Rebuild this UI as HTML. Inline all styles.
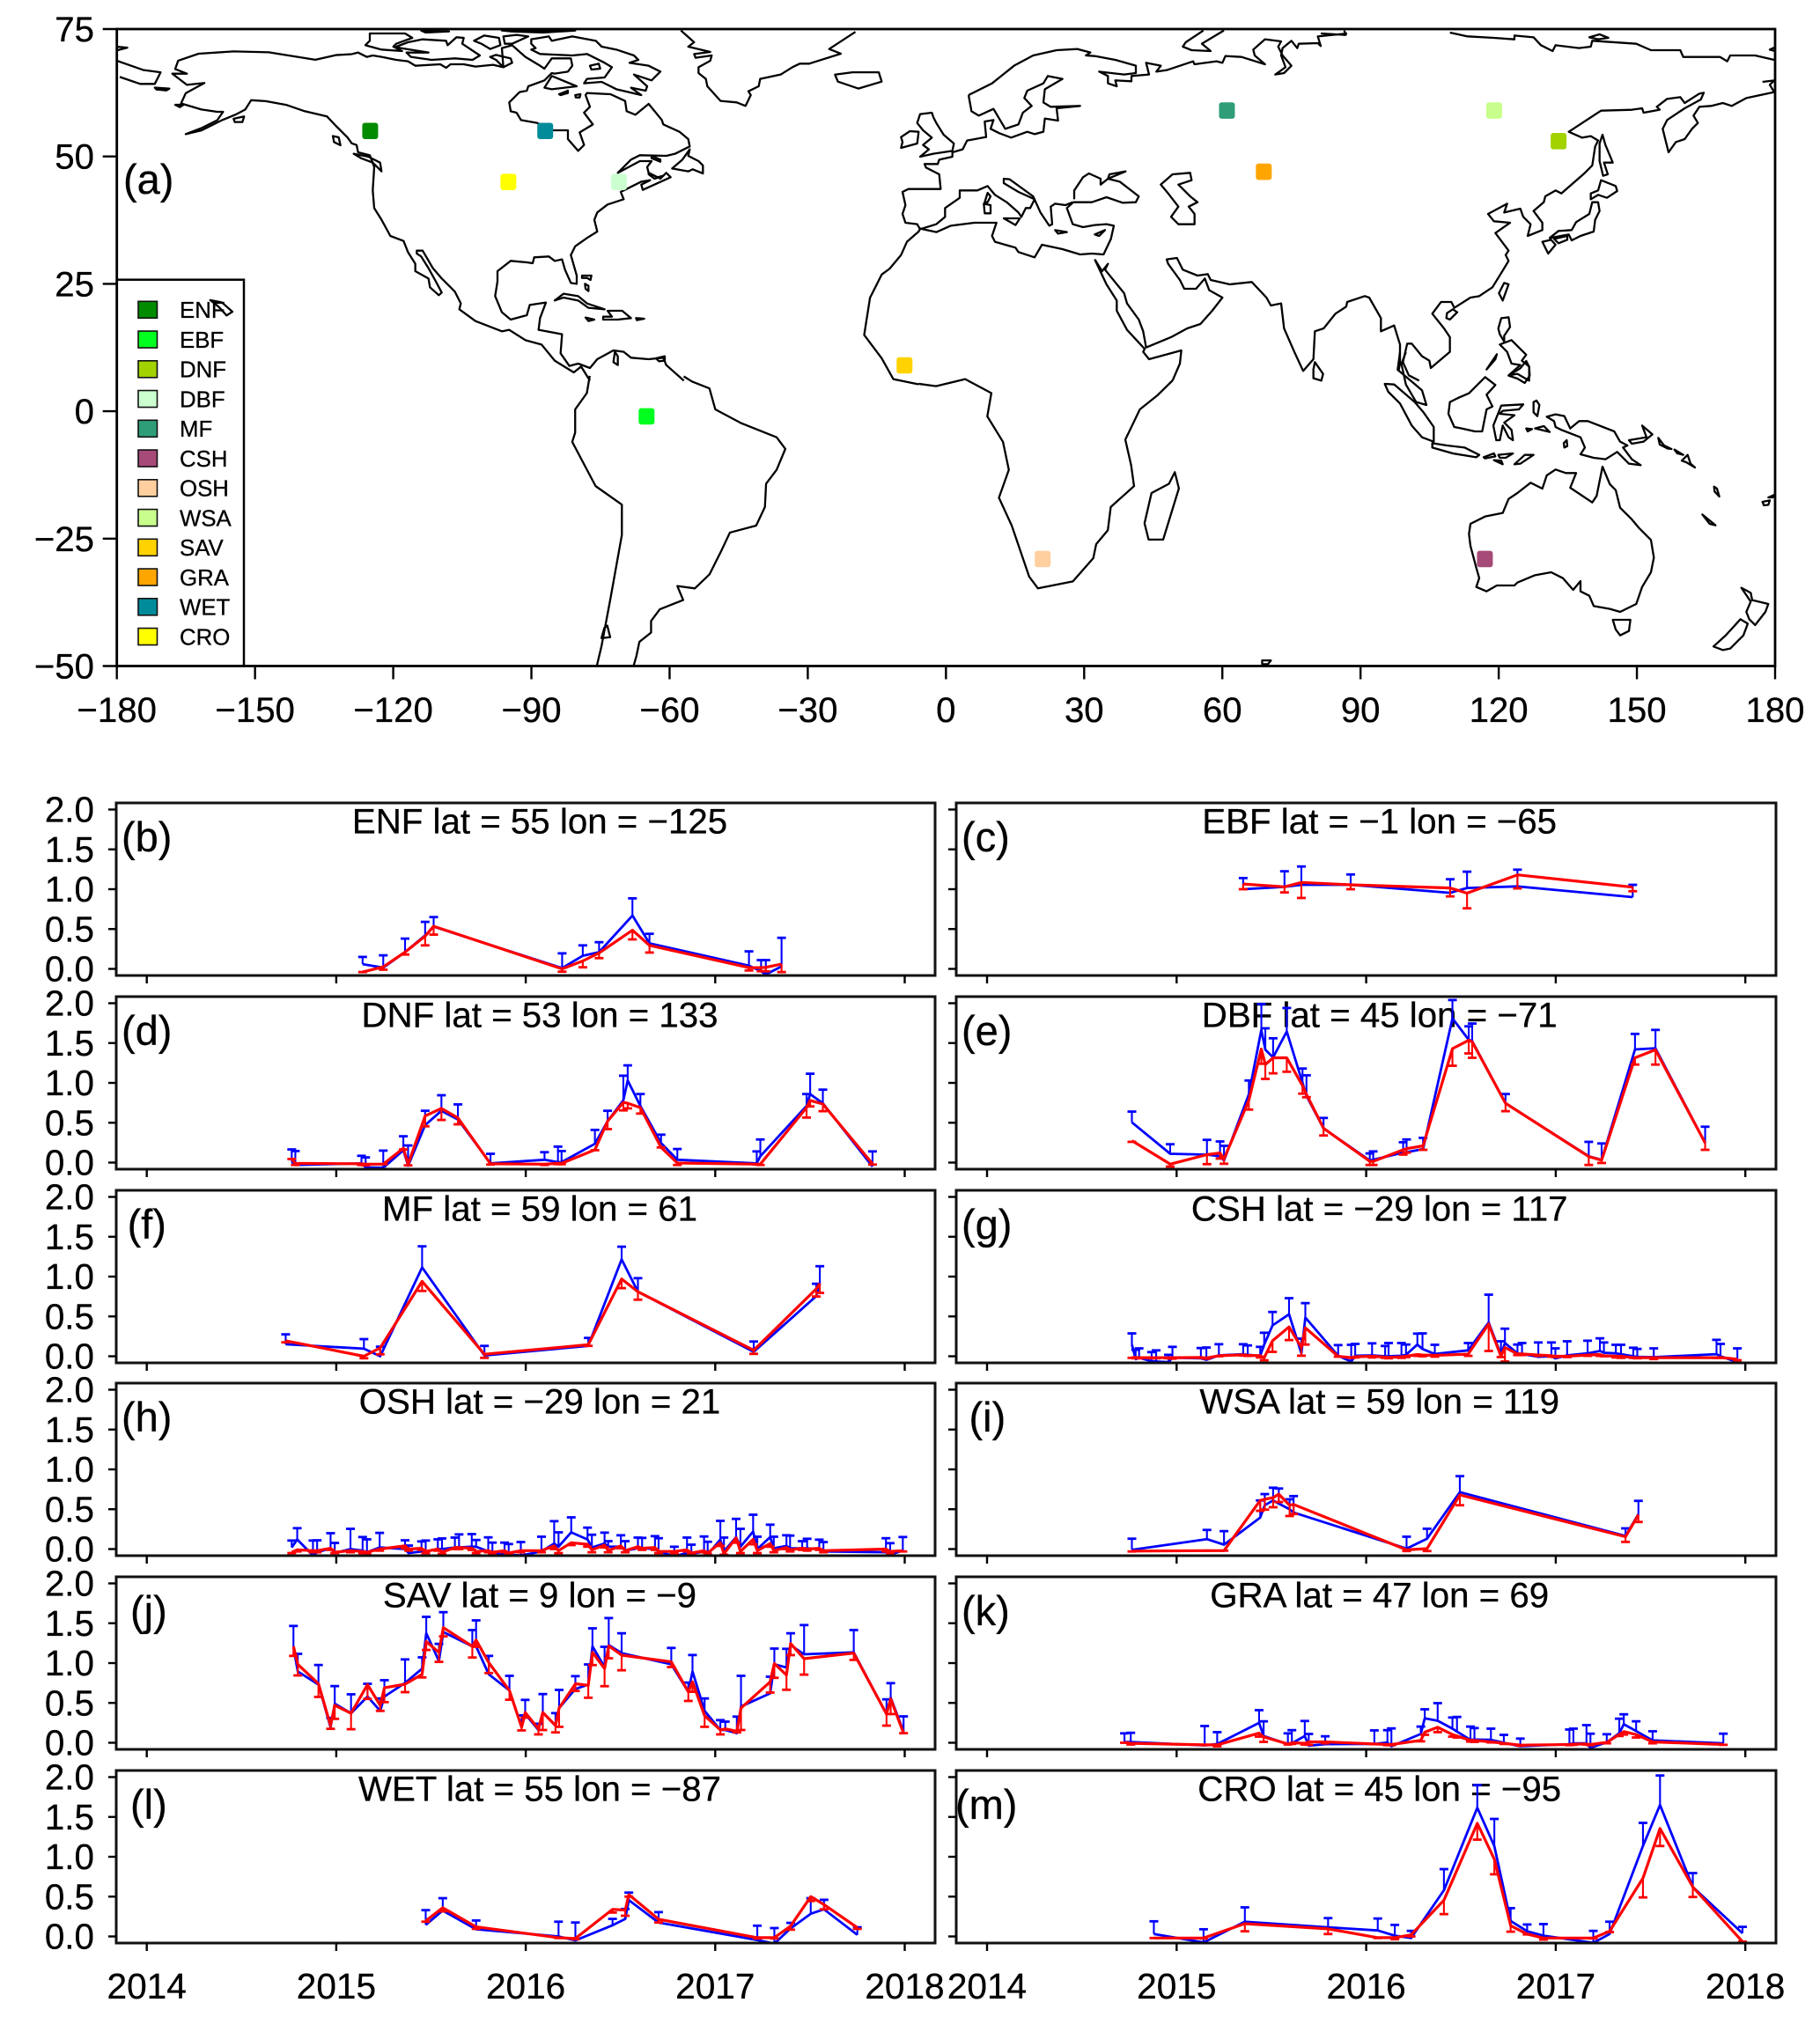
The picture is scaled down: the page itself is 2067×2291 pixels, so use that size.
<!DOCTYPE html>
<html lang="en">
<head>
<meta charset="utf-8">
<title>Site map and time series by land cover class</title>
<style>
html,body{margin:0;padding:0;background:#fff;}
svg{display:block;font-family:"Liberation Sans",sans-serif;}
svg text{stroke:#000;stroke-width:0.3;}
.coast path{fill:none;stroke:#000;stroke-width:2.3;vector-effect:non-scaling-stroke;stroke-linejoin:round;}
</style>
</head>
<body>
<svg id="fig" xmlns="http://www.w3.org/2000/svg" width="2067" height="2291" viewBox="0 0 2067 2291">
<rect x="0" y="0" width="2067" height="2291" fill="#fff"/>
<defs>
<clipPath id="mapClip"><rect x="132.7" y="33" width="1883.3" height="723.5"/></clipPath>
</defs>
<g id="mapLegendLayer"></g>
<g clip-path="url(#mapClip)">
<g class="coast" transform="translate(0.07 0.26) scale(0.6631 0.5281)">
<path d="M603,116 575,118 540,128 460,112 400,110 340,115 305,130 300,148 320,158 295,158 320,182 350,178 318,200 310,222 345,235 372,240 382,240 372,258 345,275 318,288 345,280 380,258 405,245 420,235 430,215 455,217 490,225 520,238 560,250 575,270 595,295 603,309"/>
<path d="M1171,809 1185,820 1215,835 1225,880 1270,910 1330,940 1345,965 1330,1010 1312,1040 1310,1090 1295,1130 1250,1145 1235,1185 1215,1235 1190,1265 1160,1260 1170,1290 1130,1310 1115,1335 1115,1360 1095,1380 1090,1410 1085,1432"/>
<path d="M1010,808 1005,845 985,880 985,930 980,950 1020,1045 1065,1085 1065,1150 1045,1290 1030,1390 1022,1432"/>
<path d="M1387,136 1440,115 1420,105 1465,68"/>
<path d="M1430,160 1460,155 1505,155 1510,175 1470,190 1435,175Z"/>
<path d="M200,100 218,102 200,108Z"/>
<path d="M200,130 245,150 275,155 265,180 240,180 205,165"/>
<path d="M265,188 290,190 285,194 268,192Z"/>
<path d="M300,225 314,225 308,230Z"/>
<path d="M400,255 418,250 415,262 402,262Z"/>
<path d="M570,292 580,295 583,312 572,305Z"/>
<path d="M360,645 380,650 398,670 388,678 375,660Z"/>
<path d="M1040,1345 1045,1370 1030,1372 1035,1350Z"/>
<path d="M1573,826 1530,815 1510,770 1480,720 1490,640 1510,590 1523,578"/>
</g>
<g class="coast" transform="translate(1030 0.26) scale(0.6614 0.5281)">
<path d="M456,818 430,850 400,880 375,945 385,1000 390,1045 350,1090 345,1140 325,1170 320,1200 285,1250 225,1265 210,1240 180,1130 158,1070 175,1010 165,950 138,895 145,845 100,815 50,830 20,825"/>
<path d="M460,1015 467,1050 440,1160 415,1160 408,1125 420,1060 450,1040Z"/>
<path d="M610,1420 625,1420 620,1428 610,1428Z"/>
</g>
<g class="coast" transform="translate(400 33) scale(0.33333)">
<path d="M0,85 20,80 50,95 70,90 100,95 150,105 190,110 215,125 300,120 320,132 335,120 380,120 420,128 480,122 515,130 510,65 545,55 590,95 640,125 655,135 680,100 745,100 750,125 735,145 690,152 680,150 655,175 600,195 595,210 570,215 535,250 540,280 560,285 575,310 630,320 685,345 735,345 735,375 770,415 790,395 775,352 820,325 790,285 810,265 795,225 800,218 880,222 930,245 935,280 965,292 1010,255 1055,310 1060,325 1115,350 1145,375 1150,400 1100,425 1070,432 980,430 950,445 905,490 980,450 1020,450 1005,470 1010,490 1050,510 1070,490 1085,505 990,548 985,530 1015,515 985,520 935,545 915,555 925,580 870,598 835,625 825,650 835,690 800,712 760,740 745,770 765,840 765,868 745,865 725,820 715,785 690,790 670,775 620,778 615,798 595,795 540,790 495,825 495,860 487,910 510,965 540,990 595,975 605,940 660,932 640,985 635,1025 715,1040 710,1105 740,1148 770,1140 810,1155 835,1125 890,1095 925,1100 950,1120 1010,1125 1060,1120 1070,1145 1130,1198"/>
<path d="M0,390 15,395 20,420 60,430 75,470 70,550 75,610 100,650 130,705 175,722 190,760 215,800 215,825 260,850 265,880 295,907 305,898 285,860 260,815 235,775 220,765 220,755 240,755 275,815 305,850 350,895 370,935 365,955 420,995 510,1030 535,1025 590,1060 645,1075 690,1130 755,1170 780,1150 810,1198"/>
<path d="M5,425 55,435 95,455 100,485 70,455 30,440Z"/>
<path d="M45,55 60,40 60,15 180,15 205,30 150,50 140,60 170,75 100,70Z"/>
<path d="M150,60 190,45 240,35 320,40 325,55 355,28 380,30 375,50 435,90 410,105 350,100 270,105 200,95 185,80 260,80 165,65Z"/>
<path d="M415,40 450,22 500,30 505,55 470,68 440,50Z"/>
<path d="M515,25 560,20 600,25 545,50 520,50Z"/>
<path d="M470,95 490,88 540,100 545,115 515,130 490,105Z"/>
<path d="M235,5 330,8 250,12Z"/>
<path d="M510,5 760,5 650,12 540,8Z"/>
<path d="M610,35 670,25 680,40 750,25 830,40 850,60 900,70 960,90 975,105 945,115 1010,125 1050,145 1020,175 960,155 1005,195 1000,210 950,200 985,225 900,205 850,180 790,185 800,170 860,165 885,130 860,115 800,85 750,90 640,85 610,70 625,65 610,50Z"/>
<path d="M810,125 840,118 845,135 815,138Z"/>
<path d="M655,200 680,160 765,195 680,205Z"/>
<path d="M705,222 735,210 735,218 710,225Z"/>
<path d="M760,225 778,222 775,233 762,233Z"/>
<path d="M1120,5 1165,45 1145,60 1220,78 1165,85 1170,98 1225,90 1220,108 1180,130 1180,150 1205,170 1210,195 1255,245 1310,250 1340,262 1358,225 1350,212 1385,195 1390,170 1460,155 1500,130 1525,118 1560,118"/>
<path d="M690,925 720,902 770,910 800,935 860,955 805,950 770,925 720,915Z"/>
<path d="M870,960 920,960 950,985 905,990 855,990 855,980 885,980Z"/>
<path d="M795,983 825,990 805,995Z"/>
<path d="M967,985 995,987 970,992Z"/>
<path d="M783,840 815,840 812,855 800,848 783,848Z"/>
<path d="M793,868 805,875 805,893 795,885Z"/>
<path d="M1150,410 1125,445 1090,475 1145,485 1160,478 1195,492 1195,465 1180,450 1145,432Z"/>
<path d="M1010,490 1040,505 1060,500 1030,510 1010,495Z"/>
<path d="M1020,432 1050,445 1050,452 1020,440Z"/>
<path d="M1035,1122 1065,1115 1065,1130 1045,1132Z"/>
<path d="M895,1100 905,1115 905,1145 890,1135Z"/>
</g>
<g class="coast" transform="translate(1010 33) scale(0.33333)">
<path d="M270,225 280,280 305,295 355,272 395,340 440,325 455,285 485,262 460,235 470,210 525,185 540,160 590,170 530,205 525,250 550,265 650,262 570,270 575,312 530,305 525,350 495,358 470,350 415,370 375,355 345,340 355,310 325,315 330,368 265,380 250,410 215,420 215,435 170,445 165,460 120,460 125,472 170,495 175,545 65,545 45,555 55,600 45,630 55,660 95,665 105,682 160,665 190,640 190,610 240,575 240,550 300,550 335,535 360,565 400,590 440,625 450,640 465,610 480,610 495,580 440,555 390,525 390,510 410,512 490,570 515,625 545,670 555,665 550,605 565,595 600,600 625,590"/>
<path d="M630,580 630,550 660,505 680,492 720,510 720,530 745,510 805,485 750,495 745,510 785,520 850,570 840,590 795,592 740,573 690,590 650,590 625,590"/>
<path d="M625,592 605,610 625,665 660,675 700,668 740,665 765,670 755,715 730,768 690,765 650,768 590,750 520,735 495,778 440,760 430,745 360,725 350,705 365,660 290,660 210,670 160,692 105,680 100,690 60,725 40,770 0,818"/>
<path d="M390,645 445,645 430,668Z"/>
<path d="M335,558 345,570 335,590 325,590Z"/>
<path d="M322,595 345,600 345,628 325,628Z"/>
<path d="M565,685 605,692 575,697Z"/>
<path d="M700,700 735,685 715,705Z"/>
<path d="M105,290 145,285 150,300 160,320 185,360 220,390 215,415 150,425 105,435 135,410 115,395 145,370 115,345 95,320Z"/>
<path d="M40,368 70,348 100,350 95,390 40,405 45,385Z"/>
<path d="M270,225 350,185 425,125 490,90 570,72 640,68 685,80 670,90 700,92 770,105 840,125 840,150 800,155 715,145 745,160 745,185 775,195 770,175 825,178 825,160 885,155 875,115 925,125 910,145 945,140 1035,110 1040,120 1115,110 1135,115 1145,92 1200,95 1280,120 1245,90 1240,70 1280,35 1335,42 1325,60 1340,90 1370,125 1345,150 1315,155 1350,130 1335,90 1340,65 1370,40 1390,65 1395,50 1460,48 1470,58 1460,25 1560,15"/>
<path d="M1070,5 1010,45 1000,60 1030,72 1095,75 1065,50 1140,5"/>
<path d="M925,530 965,495 1025,490 1030,515 985,530 1025,570 1050,590 1020,605 1040,630 1040,665 985,665 960,640 985,605 950,560Z"/>
<path d="M700,785 740,870 775,925 775,960 810,1025 870,1090 865,1100 885,1125 995,1095 990,1140 965,1198"/>
<path d="M700,785 725,825 745,800 735,820 800,900 810,935 850,990 865,1030 875,1085 960,1050 1015,1020 1060,1005 1100,960 1135,915 1090,890 1075,850 1045,885 1005,885 990,855 950,800 945,785 980,780 1000,820 1050,840 1085,835 1095,855 1160,870 1235,862 1285,915 1300,942 1335,935 1345,1020 1380,1100 1410,1165 1445,1125 1450,1030 1480,1020 1520,970 1558,945"/>
<path d="M1450,1135 1478,1175 1472,1198 1445,1190 1445,1160Z"/>
</g>
<g class="coast" transform="translate(1500 33) scale(0.33333)">
<path d="M87,945 90,930 150,910 165,915 205,985 205,1030 250,1010 270,1075 270,1140 265,1165"/>
<path d="M295,1070 280,1135 300,1180 335,1198"/>
<path d="M295,1072 310,1072 345,1115 370,1130 375,1155 440,1100 440,1050 420,1020 380,970 410,930 445,930 455,950 510,915 540,910 585,880 625,815 640,790 630,770 640,755 595,695 645,660 590,655 570,630 635,595 625,625 680,612 690,640 715,665 705,705 755,685 755,660 725,620 760,590 765,570 800,550 820,560 900,490 925,465 935,400 945,380 920,365 890,370 845,350 955,278 1060,275 1095,270 1100,285 1155,275 1145,265 1180,238 1225,232 1240,252 1290,220 1305,217 1295,240 1240,270 1180,310 1165,340 1185,420 1210,385 1240,375 1265,340 1285,320 1270,295 1290,265 1330,262 1370,252 1400,262 1450,235 1545,215"/>
<path d="M1505,180 1545,175 1530,190 1545,215"/>
<path d="M440,12 500,25 590,30 660,35 660,22 725,28 750,55 790,75 800,55 880,65 920,60 925,40 1075,50 1125,72 1225,72 1235,95 1360,95 1385,110 1395,90 1480,90 1545,105"/>
<path d="M0,15 85,20 80,5"/>
<path d="M915,28 950,18 980,30 945,35Z"/>
<path d="M1530,70 1548,62 1548,75Z"/>
<path d="M960,360 970,395 995,455 965,455 978,495 962,500 950,450 950,390Z"/>
<path d="M955,515 1005,535 1010,552 975,575 945,565 920,580 920,560 945,550Z"/>
<path d="M925,590 945,590 950,620 935,650 930,690 885,705 855,720 845,700 780,712 810,688 855,685 870,658 915,630Z"/>
<path d="M755,725 785,718 800,735 775,765 765,745Z"/>
<path d="M795,715 840,705 840,718 810,730Z"/>
<path d="M625,865 640,870 620,925 607,900Z"/>
<path d="M430,968 450,955 465,965 440,990 428,985Z"/>
<path d="M615,985 640,982 645,1015 625,1045 625,1065 610,1040 605,1020Z"/>
<path d="M610,1075 650,1060 675,1085 700,1110 685,1130 710,1150 710,1198 670,1175 640,1180 680,1145 650,1140 635,1100 625,1090Z"/>
<path d="M565,1160 600,1108 595,1125Z"/>
</g>
<g class="coast" transform="translate(1500 400) scale(0.33333)">
<path d="M270,0 262,60 310,100 345,130 360,180 325,170 290,110 275,40 290,0"/>
<path d="M640,80 680,55 700,30 710,50 712,80 695,105 670,90Z"/>
<path d="M218,108 250,110 320,170 350,205 385,255 385,305 345,290 310,250 270,175 230,135Z"/>
<path d="M380,310 430,318 490,325 540,350 530,358 450,345 380,325Z"/>
<path d="M555,358 590,345 595,355 560,362Z"/>
<path d="M605,350 655,345 630,360 610,360Z"/>
<path d="M590,368 615,370 620,382Z"/>
<path d="M660,382 695,350 725,350 680,380Z"/>
<path d="M560,85 595,112 565,145 585,185 565,195 550,270 525,270 480,260 455,255 435,210 440,170 470,155 505,140Z"/>
<path d="M690,178 675,195 620,200 610,210 660,215 625,240 650,265 655,300 640,290 620,250 610,300 598,300 588,250 615,182Z"/>
<path d="M725,170 735,165 745,180 738,218 725,205Z"/>
<path d="M700,260 720,262 705,270Z"/>
<path d="M730,260 760,252 780,272 740,262Z"/>
<path d="M770,220 800,212 830,218 850,260 880,235 910,235 1000,270 1020,305 1045,318 1030,325 1060,365 1090,385 1050,380 1010,340 970,365 930,360 885,348 900,325 885,290 820,265 800,255 795,235Z"/>
<path d="M828,310 838,300 840,320 830,325Z"/>
<path d="M1050,300 1110,290 1095,250 1130,280 1100,305 1060,312Z"/>
<path d="M1150,292 1175,325 1155,315Z"/>
<path d="M1170,318 1195,330 1180,328Z"/>
<path d="M1205,332 1235,350 1215,345Z"/>
<path d="M1230,370 1250,350 1260,380 1275,393 1245,375Z"/>
<path d="M1340,458 1350,465 1358,492 1342,475Z"/>
<path d="M1300,553 1345,590 1325,585Z"/>
<path d="M1505,510 1530,505 1525,520 1510,522Z"/>
<path d="M1525,495 1548,485 1540,495Z"/>
<path d="M510,585 560,560 620,548 640,500 670,480 715,445 755,465 770,420 800,400 835,412 870,412 850,462 925,512 940,490 960,390 985,450 1005,470 1020,530 1060,570 1085,600 1125,640 1135,700 1125,750 1095,800 1075,858 1020,885 985,875 930,865 915,830 885,815 885,780 860,810 825,770 785,750 730,760 670,785 660,795 600,795 565,815 530,800 540,770 530,735 510,660 505,620Z"/>
<path d="M995,912 1055,912 1050,950 1020,965 1005,945Z"/>
<path d="M1338,1003 1380,965 1430,910 1455,925 1440,965 1395,1010 1370,1015Z"/>
<path d="M1433,803 1465,820 1470,845 1525,858 1515,885 1480,930 1460,910 1450,885 1465,850Z"/>
</g>
</g>
<g id="mapLayer"></g>
<g id="panelLayer"></g>
</svg>

<script>
// ---- Map data ----
const siteClasses = ['ENF','EBF','DNF','DBF','MF','CSH','OSH','WSA','SAV','GRA','WET','CRO'];
const siteLats = [55,-1,53,45,59,-29,-29,59,9,47,55,45];
const siteLons = [-125,-65,133,-71,61,117,21,119,-9,69,-87,-95];
const siteColors = ['#008b00','#00ff1e','#a2d200','#ccffd0','#2f9e78','#a64a78','#ffcf9f','#c8ff8c','#ffd200','#ffa500','#008b9b','#ffff00'];
const mapLonTicks = [-180,-150,-120,-90,-60,-30,0,30,60,90,120,150,180];
const mapLatTicks = [75,50,25,0,-25,-50];
const panelYTicks = [0,0.5,1,1.5,2];
const panelYearTicks = [2014,2015,2016,2017,2018];
const panelLetters = ['b','c','d','e','f','g','h','i','j','k','l','m'];
const panelTitles = ['ENF lat = 55 lon = \u2212125','EBF lat = \u22121 lon = \u221265','DNF lat = 53 lon = 133','DBF lat = 45 lon = \u221271','MF lat = 59 lon = 61','CSH lat = \u221229 lon = 117','OSH lat = \u221229 lon = 21','WSA lat = 59 lon = 119','SAV lat = 9 lon = \u22129','GRA lat = 47 lon = 69','WET lat = 55 lon = \u221287','CRO lat = 45 lon = \u221295'];

// ---- ENF ----
const enfDates = [2015.139,2015.248,2015.363,2015.469,2015.514,2016.192,2016.301,2016.387,2016.563,2016.653,2017.178,2017.242,2017.267,2017.350];
const enfBlue = [.06,.015,.21,.42,.53,.01,.165,.21,.67,.32,.04,-.03,-.07,.03];
const enfBlueUpper = [.15,.17,.38,.59,.65,.195,.295,.335,.885,.44,.22,.11,.11,.39];
const enfRed = [-.04,.025,.21,.41,.535,0,.10,.2,.485,.295,.015,.015,.02,.06];
const enfRedLower = [-.04,-.01,.18,.295,.43,-.035,.02,.135,.37,.205,-.02,-.03,-.03,-.04];
// ---- EBF ----
const ebfDates = [2015.351,2015.569,2015.658,2015.918,2016.443,2016.532,2016.798,2017.406];
const ebfBlue = [1.0,1.03,1.055,1.055,.955,1.015,1.035,.9];
const ebfBlueUpper = [1.14,1.225,1.285,1.185,1.125,1.22,1.245,1.055];
const ebfRed = [1.065,1.03,1.085,1.055,1.015,.95,1.18,1.025];
const ebfRedLower = [1.0,.96,.89,1.0,.91,.76,1.01,.975];
// ---- DNF ----
const dnfDates = [2014.765,2014.784,2015.133,2015.155,2015.248,2015.354,2015.379,2015.469,2015.555,2015.642,2015.814,2016.099,2016.170,2016.189,2016.365,2016.432,2016.515,2016.538,2016.605,2016.714,2016.800,2017.219,2017.238,2017.482,2017.501,2017.568,2017.830];
const dnfBlue = [.01,-.03,-.01,-.06,-.065,.155,-.04,.47,.65,.54,-.01,.035,.005,.005,.235,.52,.78,1.03,.71,.245,.035,-.01,.08,.71,.86,.745,-.05];
const dnfBlueUpper = [.165,.145,.085,.065,.15,.33,.215,.65,.845,.73,.11,.13,.2,.145,.41,.65,1.09,1.22,.86,.35,.17,.14,.29,.86,1.115,.915,.14];
const dnfRed = [.045,-.01,-.015,-.02,-.02,.18,-.02,.585,.68,.56,-.015,-.02,-.01,-.01,.16,.52,.755,.745,.69,.19,-.005,-.02,-.02,.69,.78,.735,-.015];
const dnfRedLower = [.045,-.03,-.03,-.035,-.02,.165,-.035,.455,.535,.48,-.025,-.03,-.02,-.02,.155,.42,.655,.68,.615,.19,-.03,-.025,-.03,.565,.705,.645,-.025];
// ---- DBF ----
const dbfDates = [2014.764,2014.966,2015.160,2015.229,2015.250,2015.381,2015.447,2015.468,2015.509,2015.581,2015.664,2015.685,2015.775,2016.019,2016.037,2016.195,2016.213,2016.300,2016.455,2016.541,2016.559,2016.735,2017.174,2017.242,2017.418,2017.526,2017.788];
const dbfBlue = [.505,.11,.1,.08,.025,.855,1.665,1.415,1.32,1.645,1.0,.835,.43,.025,.035,.125,.13,.17,1.81,1.54,1.525,.745,.08,.035,1.42,1.435,.245];
const dbfBlueUpper = [.64,.23,.285,.265,.21,1.03,1.99,1.685,1.56,1.94,1.18,1.095,.56,.115,.14,.255,.29,.31,2.04,1.71,1.745,.86,.26,.24,1.615,1.665,.45];
const dbfRed = [.275,-.02,.1,.12,.045,.78,1.425,1.23,1.315,1.315,.965,.855,.43,.015,.015,.16,.175,.21,1.43,1.535,1.515,.745,.075,.03,1.315,1.415,.245];
const dbfRedLower = [.26,-.05,-.02,.05,-.015,.665,1.24,1.05,1.12,1.14,.865,.82,.34,-.03,-.03,.1,.125,.16,1.215,1.37,1.315,.645,-.03,-.005,1.23,1.23,.16];
// ---- MF ----
const mfDates = [2014.733,2015.146,2015.232,2015.453,2015.782,2016.330,2016.506,2016.592,2017.203,2017.533,2017.552];
const mfBlue = [.15,.095,0,1.115,.01,.13,1.215,.81,.055,.755,.9];
const mfBlueUpper = [.275,.215,.12,1.38,.13,.23,1.375,.98,.185,.91,1.13];
const mfRed = [.195,0,.105,.94,.025,.145,.97,.81,.075,.845,.915];
const mfRedLower = [.175,-.025,.025,.82,-.02,.13,.855,.71,.03,.75,.795];
// ---- CSH ----
const cshDates = [2014.764,2014.784,2014.802,2014.868,2014.892,2014.957,2014.978,2015.128,2015.157,2015.223,2015.351,2015.375,2015.441,2015.462,2015.506,2015.593,2015.658,2015.679,2015.852,2015.921,2015.942,2016.031,2016.100,2016.118,2016.186,2016.210,2016.270,2016.297,2016.362,2016.538,2016.646,2016.711,2016.732,2016.798,2016.822,2016.908,2016.977,2016.998,2017.060,2017.168,2017.233,2017.254,2017.317,2017.344,2017.409,2017.430,2017.517,2017.848,2017.869,2017.958];
const cshBlue = [.147,-.037,-.018,-.063,-.066,-.074,-.018,-.026,-.044,.011,.026,.018,.007,.147,.387,.527,.037,.486,.007,-.066,.007,.011,0,0,.007,.018,.147,.092,.029,.074,.424,.018,.166,.037,.029,-.007,0,-.026,.011,.037,.066,.044,.037,.026,0,-.007,-.011,.026,0,-.074];
const cshBlueUpper = [.287,.081,.099,.052,.074,.018,.118,.103,.11,.151,.151,.136,.118,.295,.556,.729,.221,.667,.14,.144,.155,.162,.129,.166,.166,.147,.284,.287,.144,.166,.773,.188,.346,.147,.166,.173,.173,.099,.188,.195,.225,.173,.144,.144,.107,.092,.099,.206,.155,.099];
const cshRed = [-.015,-.015,-.018,-.018,-.018,-.018,-.018,-.015,-.022,.007,.018,.011,.007,-.018,.195,.368,.11,.357,0,-.018,-.007,0,-.011,-.015,-.007,0,.022,.015,.011,.026,.405,0,.11,.029,.029,.015,.007,0,0,.015,.022,.007,0,0,-.018,-.018,-.018,-.018,-.015,-.037];
const cshRedLower = [-.02,-.025,-.025,-.025,-.025,-.025,-.03,-.02,-.03,0,.01,.005,-.015,-.05,.055,.203,.007,.147,-.005,-.02,-.015,-.015,-.02,-.025,-.02,-.01,.005,0,-.005,.005,.066,-.01,-.066,.015,.015,.005,-.005,-.01,-.01,.005,.005,0,-.015,-.02,-.02,-.025,-.035,-.02,-.02,-.05];
// ---- OSH ----
const oshDates = [2014.765,2014.794,2014.877,2014.899,2014.970,2014.992,2015.075,2015.139,2015.162,2015.229,2015.363,2015.382,2015.450,2015.472,2015.536,2015.558,2015.626,2015.648,2015.715,2015.738,2015.802,2015.824,2015.888,2015.910,2015.974,2016.083,2016.150,2016.173,2016.240,2016.326,2016.349,2016.416,2016.435,2016.502,2016.525,2016.592,2016.614,2016.682,2016.701,2016.784,2016.851,2016.874,2016.941,2016.960,2017.027,2017.046,2017.110,2017.133,2017.200,2017.222,2017.290,2017.309,2017.376,2017.395,2017.459,2017.485,2017.549,2017.571,2017.901,2017.923,2017.990];
const oshBlue = [.02,.12,-.08,-.04,.01,-.05,0,-.02,-.04,.02,0,-.05,-.03,-.03,0,0,.02,.02,.03,.03,-.03,-.05,-.07,-.07,-.08,-.03,.07,.03,.21,.12,.02,.07,.03,.03,-.02,.01,.01,0,-.03,-.09,-.05,-.06,-.03,-.07,.12,-.03,.15,.03,.22,0,.15,.01,.04,.01,.01,.01,0,-.03,-.04,-.07,-.02];
const oshBlueUpper = [.107,.262,.107,.11,.199,.077,.254,.151,.122,.203,.11,.044,.096,.107,.122,.133,.144,.184,.188,.114,.147,.081,.081,.063,.088,.155,.35,.21,.398,.269,.18,.206,.099,.173,.099,.144,.14,.162,.136,.029,.144,.055,.158,.092,.354,.144,.379,.254,.431,.155,.306,.155,.173,.169,.099,.129,.118,.088,.136,.074,.151];
const oshRed = [-.04,-.01,-.02,-.02,.01,-.04,-.02,-.03,-.04,0,.04,0,.01,-.03,0,-.04,.02,.02,.01,-.03,-.02,-.04,-.02,-.05,-.02,-.02,.04,-.02,.08,.06,-.01,.05,-.02,.04,-.02,.03,.01,.02,-.03,-.03,-.01,-.05,-.02,-.05,.08,-.06,.14,-.03,.12,-.02,.07,-.02,.02,-.01,.01,0,.01,-.02,0,-.03,-.02];
const oshRedLower = [-.05,-.03,-.04,-.04,-.01,-.05,-.04,-.05,-.06,-.02,.01,-.02,-.01,-.05,-.02,-.06,0,0,-.01,-.05,-.04,-.06,-.04,-.07,-.04,-.04,0,-.05,.05,.03,-.04,.02,-.04,.01,-.04,.01,-.01,-.01,-.05,-.05,-.03,-.06,-.04,-.06,.04,-.07,.08,-.05,.06,-.05,.03,-.04,0,-.03,-.01,-.02,-.01,-.04,-.03,-.05,-.03];
// ---- WSA ----
const wsaDates = [2014.764,2015.160,2015.250,2015.441,2015.465,2015.509,2015.539,2015.596,2015.617,2016.213,2016.321,2016.494,2017.368,2017.436];
const wsaBlue = [-.01,.125,.055,.395,.55,.61,.57,.5,.46,.005,.13,.715,.165,.44];
const wsaBlueUpper = [.13,.24,.225,.61,.69,.77,.76,.625,.665,.155,.255,.915,.26,.605];
const wsaRed = [-.025,-.02,-.02,.61,.625,.645,.69,.55,.56,-.01,.005,.68,.155,.43];
const wsaRedLower = [-.03,-.02,-.02,.48,.495,.525,.59,.415,.44,-.025,-.025,.55,.09,.34];
// ---- SAV ----
const savDates = [2014.774,2014.797,2014.906,2014.970,2014.992,2015.078,2015.165,2015.232,2015.254,2015.363,2015.453,2015.475,2015.542,2015.565,2015.718,2015.738,2015.805,2015.914,2015.978,2015.997,2016.067,2016.090,2016.157,2016.176,2016.262,2016.330,2016.352,2016.416,2016.438,2016.506,2016.768,2016.858,2016.880,2016.944,2017.027,2017.053,2017.114,2017.136,2017.290,2017.312,2017.376,2017.398,2017.469,2017.731,2017.904,2017.926,2017.994];
const savBlue = [1.2,.895,.73,.195,.49,.37,.58,.4,.58,.75,.93,1.375,1.025,1.39,1.21,1.21,.86,.655,.195,.36,.16,.38,.215,.435,.675,.73,1.21,.95,1.225,1.125,.985,.64,.895,.4,.16,.16,.12,.455,.62,.985,.945,1.225,1.11,1.135,.36,.565,.14];
const savBlueUpper = [1.466,1.116,.976,.313,.711,.608,.74,.556,.785,1.046,1.072,1.58,1.241,1.639,1.414,1.536,1.09,.84,.343,.538,.239,.611,.372,.663,.836,.983,1.436,1.204,1.565,1.374,1.19,.755,1.101,.556,.284,.265,.328,.84,.829,1.182,1.179,1.374,1.477,1.414,.545,.748,.331];
const savRed = [1.21,.985,.74,.215,.47,.37,.73,.47,.69,.735,.86,1.27,1.135,1.445,1.21,1.29,1.005,.655,.195,.38,.175,.38,.215,.435,.74,.72,1.135,.93,1.215,1.1,1.015,.64,.765,.34,.16,.175,.145,.435,.765,.995,.85,1.245,1.055,1.125,.36,.55,.12];
const savRedLower = [1.09,.845,.575,.175,.3,.17,.55,.4,.51,.635,.82,1.165,1.015,1.335,1.07,1.205,.875,.54,.155,.315,.105,.16,.13,.2,.65,.565,.975,.71,1.06,.91,.95,.525,.64,.2,.105,.165,.13,.16,.63,.815,.665,1.1,.855,1.04,.215,.36,.12];
// ---- GRA ----
const graDates = [2014.725,2014.758,2015.148,2015.214,2015.435,2015.459,2015.587,2015.608,2015.676,2015.697,2015.784,2016.043,2016.112,2016.133,2016.288,2016.309,2016.377,2016.455,2016.479,2016.550,2016.571,2016.658,2016.726,2016.813,2017.072,2017.093,2017.162,2017.183,2017.269,2017.335,2017.359,2017.424,2017.511,2017.884];
const graBlue = [.01,.01,-.033,-.015,.25,.085,-.018,-.007,.085,-.037,-.018,-.015,.004,-.044,.11,.306,.276,.177,.14,.037,.04,.037,0,-.044,-.018,-.007,-.007,-.063,.004,.12,.232,.147,.03,-.007];
const graBlueUpper = [.118,.125,.21,.133,.409,.269,.118,.158,.273,.11,.081,.155,.158,.18,.203,.42,.497,.317,.324,.203,.184,.177,.099,.052,.166,.177,.221,.114,.107,.302,.357,.269,.144,.114];
const graRed = [.004,-.007,-.026,-.026,.12,.074,-.015,0,-.007,.011,.011,-.015,-.022,-.022,.03,.133,.195,.103,.085,.03,.03,.011,-.007,-.03,-.022,-.018,-.015,-.022,.004,.103,.14,.103,.011,-.022];
const graRedLower = [0,-.022,-.03,-.044,.077,.011,-.022,-.015,-.022,-.026,-.007,-.018,-.03,-.03,.018,.1,.133,.077,.066,.015,.011,.004,-.015,-.037,-.03,-.026,-.022,-.03,-.007,.085,.103,.066,-.007,-.026];
// ---- WET ----
const wetDates = [2015.472,2015.562,2015.738,2016.173,2016.262,2016.458,2016.525,2016.544,2016.701,2017.222,2017.312,2017.398,2017.504,2017.574,2017.750];
const wetBlue = [.145,.325,.09,0,-.05,.14,.22,.455,.175,-.045,-.09,.10,.285,.34,.02];
const wetBlueUpper = [.33,.48,.2,.185,.175,.22,.345,.55,.305,.135,.105,.17,.48,.46,.115];
const wetRed = [.195,.36,.12,-.015,-.025,.34,.33,.525,.215,-.015,-.015,.13,.5,.4,.11];
const wetRedLower = [.185,.315,.095,-.02,-.035,.3,.26,.5,.175,-.025,-.025,.085,.445,.34,.095];
// ---- CRO ----
const croDates = [2014.880,2015.142,2015.360,2015.799,2016.061,2016.151,2016.237,2016.410,2016.586,2016.676,2016.762,2016.849,2016.935,2017.198,2017.284,2017.460,2017.550,2017.723,2017.985];
const croBlue = [.03,-.075,.185,.115,.075,.01,-.02,.58,1.615,1.135,.195,.065,.01,-.08,.03,1.135,1.65,.62,.04];
const croBlueUpper = [.19,.09,.365,.23,.225,.145,.07,.845,1.9,1.475,.355,.15,.155,.07,.185,1.425,2.02,.795,.12];
const croRed = [-.02,-.02,.16,.095,-.015,-.015,.02,.455,1.42,.97,.135,.03,-.02,-.02,.065,.73,1.355,.62,-.065];
const croRedLower = [-.02,-.025,.065,.03,-.02,-.035,0,.28,1.215,.78,.06,.025,-.04,-.025,.055,.49,1.135,.495,-.065];

const panelSeries = [
  [enfDates,enfBlue,enfBlueUpper,enfRed,enfRedLower],
  [ebfDates,ebfBlue,ebfBlueUpper,ebfRed,ebfRedLower],
  [dnfDates,dnfBlue,dnfBlueUpper,dnfRed,dnfRedLower],
  [dbfDates,dbfBlue,dbfBlueUpper,dbfRed,dbfRedLower],
  [mfDates,mfBlue,mfBlueUpper,mfRed,mfRedLower],
  [cshDates,cshBlue,cshBlueUpper,cshRed,cshRedLower],
  [oshDates,oshBlue,oshBlueUpper,oshRed,oshRedLower],
  [wsaDates,wsaBlue,wsaBlueUpper,wsaRed,wsaRedLower],
  [savDates,savBlue,savBlueUpper,savRed,savRedLower],
  [graDates,graBlue,graBlueUpper,graRed,graRedLower],
  [wetDates,wetBlue,wetBlueUpper,wetRed,wetRedLower],
  [croDates,croBlue,croBlueUpper,croRed,croRedLower]
];

// ---- Layout & helpers ----
const NS = 'http://www.w3.org/2000/svg';
const fig = document.getElementById('fig');
function make(tag, attrs, parent) {
  const el = document.createElementNS(NS, tag);
  for (const k in attrs) el.setAttribute(k, attrs[k]);
  parent.appendChild(el);
  return el;
}
function fmtNeg(v) { return v < 0 ? '\u2212' + Math.abs(v) : String(v); }

// ---- Map ----
const MAP = {left:132.7, right:2016, top:33, bottom:756.5};
const mapX = lon => MAP.left + (lon + 180) / 360 * (MAP.right - MAP.left);
const mapY = lat => MAP.top + (75 - lat) / 125 * (MAP.bottom - MAP.top);

function drawLegend() {
  const layer = document.getElementById('mapLegendLayer');
  const box = make('rect', {x:MAP.left, y:317.7, width:144.3, height:MAP.bottom-317.7, fill:'#fff', stroke:'#000', 'stroke-width':2.5}, layer);
  
  
  siteClasses.forEach((name, i) => {
    const cy = 351.8 + i * 33.75;
    const sw = make('rect', {x:157, y:cy-9.5, width:21.5, height:19, fill:siteColors[i], stroke:'#111', 'stroke-width':1.6}, layer);
    
    
    const t = make('text', {x:204, y:cy+9.3, 'font-size':25.8, fill:'#000'}, layer);
    t.textContent = name;
    
    
  });
}
function drawMapAxes() {
  const layer = document.getElementById('mapLayer');
  siteClasses.forEach((name, i) => {
    const m = make('rect', {x:mapX(siteLons[i])-9, y:mapY(siteLats[i])-9.3, width:18, height:18.6, rx:3, ry:3, fill:siteColors[i]}, layer);
    
    
  });
  const frame = make('rect', {x:MAP.left, y:MAP.top, width:MAP.right-MAP.left, height:MAP.bottom-MAP.top, fill:'none', stroke:'#000', 'stroke-width':2.8}, layer);
  
  
  mapLonTicks.forEach(v => {
    const x = mapX(v);
    const tk = make('line', {x1:x, x2:x, y1:MAP.bottom, y2:MAP.bottom+15, stroke:'#000', 'stroke-width':2.4}, layer);
    
    
    const lb = make('text', {x:x, y:820, 'font-size':40.2, 'text-anchor':'middle', fill:'#000'}, layer);
    lb.textContent = fmtNeg(v);
    
    
  });
  mapLatTicks.forEach(v => {
    const y = mapY(v);
    const tk = make('line', {x1:MAP.left-16, x2:MAP.left, y1:y, y2:y, stroke:'#000', 'stroke-width':2.4}, layer);
    
    
    const lb = make('text', {x:107, y:y+14, 'font-size':40.2, 'text-anchor':'end', fill:'#000'}, layer);
    lb.textContent = fmtNeg(v);
    
    
  });
  const a = make('text', {x:140, y:220, 'font-size':47, fill:'#000'}, layer);
  a.textContent = '(a)';
  
  
}

// ---- Panels ----
const COL_LEFT = [132, 1086];
const COL_RIGHT = [1062, 2017];
const COL_YEAR0 = [166.7, 1121];
const COL_YEAR_W = [215.2, 215.3];
const COL_TITLE = [613, 1566.7];
const ROW_TOP = [912, 1132, 1352, 1571, 1791, 2011];
const PANEL_H = 196;
const ZERO_OFFSET = 188.5;
const UNIT = 90.5;
const LABEL_X = [138, 1092, 138, 1092, 144.6, 1092, 138, 1100.5, 148, 1092, 148, 1085];

function drawSeries(g, name, color, lineW, xs, means, bounds, X, Y) {
  const sg = make('g', {}, g);
  
  
  xs.forEach((d, i) => {
    const x = X(d);
    const bar = make('line', {x1:x, x2:x, y1:Y(means[i]), y2:Y(bounds[i]), stroke:color, 'stroke-width':2.1}, sg);
    
    
    const cap = make('line', {x1:x-5, x2:x+5, y1:Y(bounds[i]), y2:Y(bounds[i]), stroke:color, 'stroke-width':2.8}, sg);
    
    
  });
  const pts = xs.map((d, i) => X(d).toFixed(1) + ',' + Y(means[i]).toFixed(1)).join(' ');
  const ln = make('polyline', {points:pts, fill:'none', stroke:color, 'stroke-width':lineW, 'stroke-linejoin':'round'}, sg);
  
  
}

function drawPanel(idx) {
  const layer = document.getElementById('panelLayer');
  const col = idx % 2;
  const row = Math.floor(idx / 2);
  const left = COL_LEFT[col], right = COL_RIGHT[col], top = ROW_TOP[row];
  const bottom = top + PANEL_H;
  const X = d => COL_YEAR0[col] + (d - 2014) * COL_YEAR_W[col];
  const Y = v => top + ZERO_OFFSET - v * UNIT;
  const letter = panelLetters[idx];
  const g = make('g', {}, layer);
  
  

  const clipId = 'clip-' + letter;
  const defs = make('defs', {}, g);
  const cp = make('clipPath', {id:clipId}, defs);
  make('rect', {x:left, y:top, width:right-left, height:PANEL_H}, cp);

  const title = make('text', {x:COL_TITLE[col], y:top+34.5, 'font-size':40.25, 'text-anchor':'middle', fill:'#000'}, g);
  title.textContent = panelTitles[idx];
  
  

  const plot = make('g', {'clip-path':'url(#' + clipId + ')'}, g);
  
  
  const s = panelSeries[idx];
  drawSeries(plot, 'blue', '#0000ff', 2.8, s[0], s[1], s[2], X, Y);
  drawSeries(plot, 'red', '#ff0000', 3.2, s[0], s[3], s[4], X, Y);

  const frame = make('rect', {x:left, y:top, width:right-left, height:PANEL_H, fill:'none', stroke:'#111', 'stroke-width':3}, g);
  
  

  panelYTicks.forEach(v => {
    const y = Y(v);
    const tk = make('line', {x1:left-9, x2:left, y1:y, y2:y, stroke:'#000', 'stroke-width':2.4}, g);
    
    
    if (col === 0) {
      const lb = make('text', {x:107, y:y+14, 'font-size':40.4, 'text-anchor':'end', fill:'#000'}, g);
      lb.textContent = v.toFixed(1);
      
      
    }
  });
  panelYearTicks.forEach(yr => {
    const x = X(yr);
    const tk = make('line', {x1:x, x2:x, y1:bottom, y2:bottom+9, stroke:'#000', 'stroke-width':2.4}, g);
    
    
    if (row === ROW_TOP.length - 1) {
      const lb = make('text', {x:x, y:2270, 'font-size':40.6, 'text-anchor':'middle', fill:'#000'}, g);
      lb.textContent = String(yr);
      
      
    }
  });
  const lab = make('text', {x:LABEL_X[idx], y:top+55, 'font-size':47, fill:'#000'}, g);
  lab.textContent = '(' + letter + ')';
  
  
}

drawLegend();
drawMapAxes();
panelLetters.forEach((_, i) => drawPanel(i));
</script>
</body>
</html>
